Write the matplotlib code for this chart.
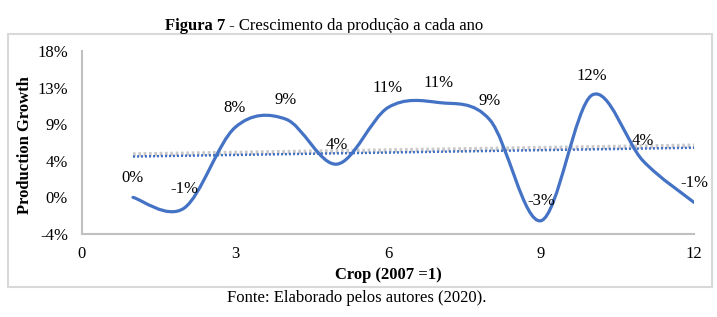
import matplotlib
matplotlib.use("Agg")
import matplotlib.pyplot as plt
import matplotlib.transforms as mtransforms
from matplotlib.path import Path
from matplotlib.patches import PathPatch, Rectangle
import numpy as np

# --- data ---
crops = [1, 2, 3, 4, 5, 6, 7, 8, 9, 10, 11, 12]
growth = [0.000, -0.013, 0.084, 0.094, 0.040, 0.108, 0.114, 0.093, -0.028, 0.123, 0.044, -0.006]
y_ticks = [-0.044, 0.0, 0.044, 0.088, 0.132, 0.176]
x_ticks = [0, 3, 6, 9, 12]

BLUE = "#4472C4"

plt.rcParams["font.family"] = ["Liberation Serif", "DejaVu Serif"]

fig = plt.figure(figsize=(7.17, 3.17), dpi=100)
ax = fig.add_axes([82 / 717, 1 - 234 / 317, (694 - 82) / 717, (234 - 51) / 317])


def smooth_path(xs, ys):
    """Excel-like smoothed line as cubic Bezier segments."""
    pts = np.column_stack([xs, ys]).astype(float)
    n = len(pts)
    verts = [pts[0]]
    codes = [Path.MOVETO]
    for i in range(n - 1):
        p_prev = pts[max(i - 1, 0)]
        p0, p1 = pts[i], pts[i + 1]
        p_next = pts[min(i + 2, n - 1)]
        c1 = p0 + (p1 - p_prev) / 6.0
        c2 = p1 - (p_next - p0) / 6.0
        verts += [c1, c2, p1]
        codes += [Path.CURVE4] * 3
    return Path(verts, codes)


ax.add_patch(PathPatch(smooth_path(crops, growth), facecolor="none",
                       edgecolor=BLUE, lw=2.3, zorder=3, capstyle="round"))

# linear trend lines (grey shadow + blue dotted)
coef = np.polyfit(crops, growth, 1)
trend = np.polyval(coef, crops)
shadow = mtransforms.offset_copy(ax.transData, fig=fig, x=0, y=2, units="dots")
ax.plot(crops, trend, ls=(0, (0.6, 0.6)), color="#c8c8c8", lw=3.2,
        transform=shadow, zorder=2)
ax.plot(crops, trend, ls=(0, (0.8, 0.8)), color=BLUE, lw=1.8, zorder=2.5)

for x, y in zip(crops, growth):
    ax.annotate(f"{round(y * 100):.0f}%", (x, y), textcoords="offset points",
                xytext=(0, 14), ha="center", va="center", fontsize=12, zorder=4)

ax.set_xlim(0, 12)
ax.set_ylim(y_ticks[0], y_ticks[-1])
ax.set_xticks(x_ticks)
ax.set_yticks(y_ticks)
ax.set_yticklabels([f"{round(v * 100):.0f}%" for v in y_ticks])
ax.tick_params(length=0, labelsize=12)
ax.tick_params(axis="y", pad=10)
ax.tick_params(axis="x", pad=9)
for side in ("top", "right"):
    ax.spines[side].set_visible(False)
for side in ("left", "bottom"):
    ax.spines[side].set_color("#c0c0c0")
    ax.spines[side].set_linewidth(1.5)

fig.text(25 / 717, 1 - 145 / 317, "Production Growth", rotation=90,
         ha="center", va="center", fontsize=12, fontweight="bold")
fig.text(388 / 717, 1 - 275 / 317, "Crop (2007 =1)", ha="center",
         va="center", fontsize=12, fontweight="bold")

# chart frame
fig.patches.append(Rectangle((8 / 717, 1 - 287 / 317), (712 - 8) / 717,
                             (287 - 34) / 317, transform=fig.transFigure,
                             fill=False, edgecolor="#d9d9d9", lw=1.5))

t1 = fig.text(165 / 717, 1 - 30 / 317, "Figura 7", ha="left",
              va="baseline", fontsize=12, fontweight="bold")
ax.annotate(" - Crescimento da produção a cada ano", xy=(1, 0), xycoords=t1,
            ha="left", va="bottom", fontsize=12, annotation_clip=False)
fig.text(357 / 717, 1 - 298 / 317, "Fonte: Elaborado pelos autores (2020).",
         ha="center", va="center", fontsize=12)

fig.savefig("out.png", dpi=100)
